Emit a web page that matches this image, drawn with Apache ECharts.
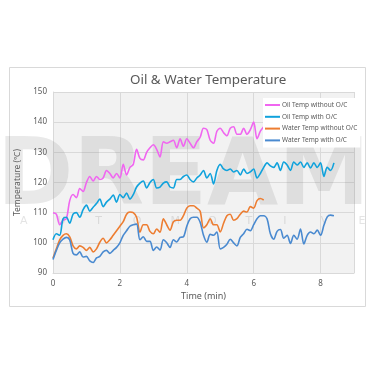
<!DOCTYPE html>
<html>
<head>
<meta charset="utf-8">
<script src="https://cdn.jsdelivr.net/npm/echarts@6/dist/echarts.min.js"></script>
<style>
  html, body { margin: 0; padding: 0; background: #fff; }
  #chart { width: 375px; height: 375px; }
</style>
</head>
<body>
<div id="chart"></div>
<script>
  var STEP = 0.1;
  var seriesNames = ['Oil Temp without O/C', 'Oil Temp with O/C', 'Water Temp without O/C', 'Water Temp with O/C'];
  var colorList = ['#f066f0', '#10a2dc', '#ed7d31', '#4a8ad0'];

  var oilWithout = [110, 109.5, 106, 107.5, 108, 114, 116, 115, 118, 117,
    120, 122, 120.5, 122, 121, 121.5, 124, 123, 121.5, 123,
    121.5, 126, 122.5, 125, 126, 131, 128, 127.5, 130, 131.5,
    132.5, 131, 128.5, 133.5, 133, 133.5, 134, 131.5, 134.5, 132,
    134.5, 133, 131.5, 133.5, 135, 138, 137.5, 134, 133, 137,
    138, 136.5, 135.5, 138, 138.5, 136, 136, 138, 136, 137.5,
    140, 134.5, 137, 138.5];
  var oilWith = [101, 103, 102.5, 108, 108.5, 106.5, 109.5, 110, 108.5, 111,
    112.5, 110.5, 111.8, 113, 114.5, 112, 113.5, 114.5, 115.8, 113.5,
    116, 115, 116.5, 114.5, 116, 118.5, 119.8, 120.5, 118.2, 120,
    121, 118.2, 118.5, 119.8, 120.2, 118.5, 118.2, 121, 121, 122,
    122.5, 121, 120.2, 121.5, 122.5, 124, 121.5, 123, 119.5, 124,
    126, 124.5, 124, 124.5, 123.5, 124, 122.5, 124.5, 123, 123.5,
    124.5, 121.5, 123, 125, 126.5, 125.5, 125, 126.5, 124, 126.8,
    125.8, 124, 126.8, 125.8, 126.8, 125, 126.5, 124.8, 126.5, 125,
    126.5, 122, 125, 124, 126.5];
  var waterWithout = [95, 98, 101, 102.5, 103, 102, 99, 98, 99, 98.5,
    97.5, 98.5, 97, 98, 100.2, 101.5, 100, 101, 102.5, 104,
    105.5, 107, 109.5, 110.2, 110, 108.5, 103.5, 106, 106, 103.8,
    103, 104.6, 103.5, 108, 106, 104.2, 107, 107.5, 107.5, 109,
    111.5, 112.3, 112.3, 111.5, 110.5, 105, 106, 108, 106, 106,
    103.6, 106.5, 109, 109.5, 107.5, 108, 109.5, 110.5, 110.2, 112,
    111.5, 114, 114.7, 114.2];
  var waterWith = [94.5, 97.5, 100, 101.2, 101.8, 101, 96.5, 96, 97, 95.3,
    95.5, 94, 93.5, 95, 95.5, 97, 97.5, 96.5, 97.5, 98.5,
    100, 102.5, 104, 105.5, 106, 106.2, 101, 102, 100.5, 100.5,
    97.5, 98.6, 97.6, 101, 100, 98.5, 101, 100.3, 101.8, 102,
    105.5, 108, 108.5, 108.5, 106.8, 102.5, 100.2, 102.8, 102.5, 103.6,
    98, 98.5, 99.5, 101.2, 100, 99, 101.8, 103, 104.5, 104,
    106, 108, 109, 109, 108, 103, 101.2, 103.8, 104.4, 101.5,
    102.5, 99.8, 102.5, 101.2, 104.6, 99.6, 102.5, 103.6, 103, 104.2,
    102.5, 105.8, 108.6, 109.2, 109];

  var watermarkLetters = ['A', 'U', 'T', 'O', 'M', 'O', 'T', 'I', 'V', 'E'];

  function toPairs(values) {
    return values.map(function (v, i) {
      return [Math.round(i * STEP * 10) / 10, v];
    });
  }

  var allValues = [oilWithout, oilWith, waterWithout, waterWith];
  var chart = echarts.init(document.getElementById('chart'));

  var watermark = [{
    type: 'text',
    left: -3,
    top: 134,
    z: 1,
    silent: true,
    style: {
      text: 'DREAM',
      fontSize: 92,
      fontWeight: 'bold',
      fontFamily: 'DejaVu Sans',
      fill: 'rgba(120,120,120,0.16)'
    }
  }];
  watermarkLetters.forEach(function (ch, i) {
    watermark.push({
      type: 'text',
      left: 20 + i * 37.6,
      top: 216,
      z: 1,
      silent: true,
      style: {
        text: ch,
        fontSize: 11,
        fontFamily: 'DejaVu Sans',
        fill: 'rgba(120,120,120,0.2)'
      }
    });
  });
  watermark.push({
    type: 'rect',
    shape: { x: 9.5, y: 67.5, width: 356, height: 239 },
    z: -1,
    silent: true,
    style: { fill: '#fff', stroke: '#d9d9d9', lineWidth: 1 }
  });

  chart.setOption({
    animation: false,
    textStyle: { fontFamily: 'Noto Sans' },
    title: {
      text: 'Oil & Water Temperature',
      left: 125,
      top: 69,
      textStyle: {
        color: '#595959',
        fontSize: 13.4,
        fontWeight: 'normal',
        fontFamily: 'Noto Sans'
      }
    },
    graphic: watermark,
    legend: {
      orient: 'vertical',
      left: 263,
      top: 98,
      padding: [3, 3, 3, 2],
      backgroundColor: '#fff',
      itemWidth: 15,
      itemHeight: 2,
      itemGap: 3.8,
      icon: 'rect',
      data: seriesNames,
      textStyle: {
        color: '#595959',
        fontSize: 6.5,
        lineHeight: 8,
        padding: [0, 0, 0, -3]
      }
    },
    grid: {
      left: 53,
      right: 21,
      top: 92,
      bottom: 102,
      show: true,
      backgroundColor: '#f2f2f2',
      borderWidth: 0
    },
    xAxis: {
      type: 'value',
      min: 0,
      max: 9,
      interval: 2,
      name: 'Time (min)',
      nameLocation: 'middle',
      nameGap: 19,
      nameTextStyle: { color: '#595959', fontSize: 9 },
      axisLine: { show: true, lineStyle: { color: '#d9d9d9' } },
      axisTick: { show: false },
      axisLabel: { color: '#595959', fontSize: 8, margin: 7, showMaxLabel: false },
      splitLine: { show: true, lineStyle: { color: '#d9d9d9', width: 1 } }
    },
    yAxis: {
      type: 'value',
      min: 90,
      max: 150,
      interval: 10,
      name: 'Temperature (℃)',
      nameLocation: 'middle',
      nameGap: 25,
      nameTextStyle: { color: '#595959', fontSize: 8.5 },
      axisLine: { show: true, lineStyle: { color: '#d9d9d9' } },
      axisTick: { show: false },
      axisLabel: { color: '#595959', fontSize: 8, margin: 6 },
      splitLine: { show: true, lineStyle: { color: '#d9d9d9', width: 1 } }
    },
    series: seriesNames.map(function (name, i) {
      return {
        name: name,
        type: 'line',
        z: 3,
        smooth: 0.3,
        showSymbol: false,
        symbol: 'none',
        lineStyle: { color: colorList[i], width: 1.6 },
        itemStyle: { color: colorList[i] },
        data: toPairs(allValues[i])
      };
    })
  });
</script>
</body>
</html>
